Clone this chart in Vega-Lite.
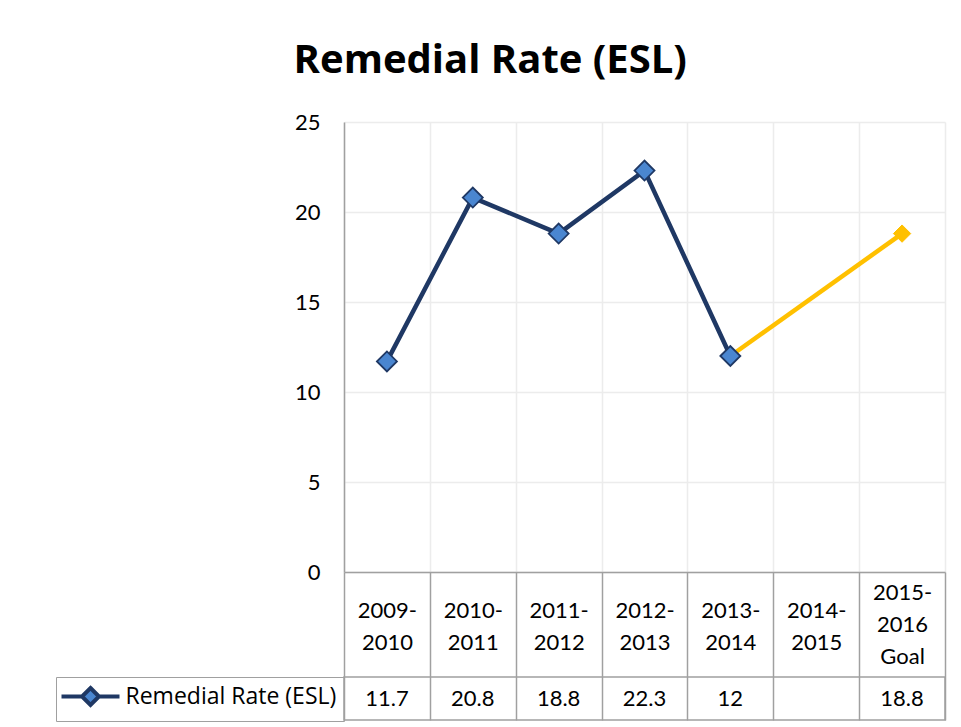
{
  "$schema": "https://vega.github.io/schema/vega-lite/v6.json",
  "padding": {"left": 54, "top": 41, "right": 18, "bottom": 7},
  "background": "#ffffff",
  "title": {
    "text": "Remedial Rate (ESL)",
    "font": "Open Sans",
    "fontSize": 40,
    "fontWeight": "bold",
    "color": "#000000",
    "anchor": "middle",
    "dx": -10,
    "offset": 30
  },
  "datasets": {
    "rates": [
      {"year": "2009-2010", "rate": 11.7, "kind": "actual", "series": "Remedial Rate (ESL)"},
      {"year": "2010-2011", "rate": 20.8, "kind": "actual", "series": "Remedial Rate (ESL)"},
      {"year": "2011-2012", "rate": 18.8, "kind": "actual", "series": "Remedial Rate (ESL)"},
      {"year": "2012-2013", "rate": 22.3, "kind": "actual", "series": "Remedial Rate (ESL)"},
      {"year": "2013-2014", "rate": 12, "kind": "actual", "series": "Remedial Rate (ESL)"},
      {"year": "2015-2016 Goal", "rate": 18.8, "kind": "goal", "series": "Remedial Rate (ESL)"}
    ],
    "goalLine": [
      {"year": "2013-2014", "rate": 12},
      {"year": "2015-2016 Goal", "rate": 18.8}
    ]
  },
  "vconcat": [
    {
      "width": 601,
      "height": 450,
      "layer": [
        {
          "data": {"name": "rates"},
          "transform": [{"filter": "datum.kind == 'actual'"}],
          "mark": {"type": "line", "color": "#1f3864", "strokeWidth": 4.5},
          "encoding": {
            "x": {
              "field": "year", "type": "nominal", "sort": null,
              "scale": {"domain": ["2009-2010", "2010-2011", "2011-2012", "2012-2013", "2013-2014", "2014-2015", "2015-2016 Goal"]},
              "axis": {
                "title": null,
                "labelAngle": 0,
                "labelExpr": "split(replace(replace(datum.label, '-', '-|'), ' ', '|'), '|')",
                "labelFont": "Lato",
                "labelFontSize": 22,
                "labelColor": "#000000",
                "labelLineHeight": 32,
                "labelBaseline": "middle",
                "labelPadding": {"condition": {"test": "indexof(datum.label, 'Goal') >= 0", "value": -127.5}, "value": -109.5},
                "domainColor": "#a0a0a0",
                "domainWidth": 1.5,
                "ticks": true,
                "tickBand": "extent",
                "tickSize": 148,
                "tickColor": "#a0a0a0",
                "tickWidth": 1.5,
                "grid": true,
                "gridColor": "#ececec",
                "gridWidth": 1.5
              }
            },
            "y": {
              "field": "rate", "type": "quantitative",
              "scale": {"domain": [0, 25], "nice": false},
              "axis": {
                "title": null,
                "values": [0, 5, 10, 15, 20, 25],
                "labelFont": "Lato",
                "labelFontSize": 22,
                "labelColor": "#000000",
                "labelPadding": 24,
                "ticks": false,
                "domainColor": "#a0a0a0",
                "domainWidth": 1.5,
                "grid": true,
                "gridColor": "#ececec",
                "gridWidth": 1.5
              }
            }
          }
        },
        {
          "data": {"name": "goalLine"},
          "mark": {"type": "line", "color": "#ffc000", "strokeWidth": 4.5},
          "encoding": {
            "x": {"field": "year", "type": "nominal", "sort": null},
            "y": {"field": "rate", "type": "quantitative"}
          }
        },
        {
          "data": {"name": "rates"},
          "transform": [{"filter": "datum.kind == 'actual'"}],
          "mark": {"type": "point", "shape": "diamond", "size": 400, "filled": true, "fill": "#4a86d0", "stroke": "#1f3864", "strokeWidth": 1.8, "opacity": 1},
          "encoding": {
            "x": {"field": "year", "type": "nominal", "sort": null},
            "y": {"field": "rate", "type": "quantitative"}
          }
        },
        {
          "data": {"name": "rates"},
          "transform": [{"filter": "datum.kind == 'goal'"}],
          "mark": {"type": "point", "shape": "diamond", "size": 300, "filled": true, "fill": "#ffc000", "stroke": "#ffc000", "strokeWidth": 1, "opacity": 1},
          "encoding": {
            "x": {"field": "year", "type": "nominal", "sort": null},
            "y": {"field": "rate", "type": "quantitative"}
          }
        }
      ]
    },
    {
      "width": 601,
      "height": 43,
      "view": {"stroke": "#a0a0a0", "strokeWidth": 1.5},
      "data": {"name": "rates"},
      "encoding": {
        "x": {
          "field": "year", "type": "nominal", "sort": null,
          "scale": {"domain": ["2009-2010", "2010-2011", "2011-2012", "2012-2013", "2013-2014", "2014-2015", "2015-2016 Goal"]},
          "axis": null
        }
      },
      "layer": [
        {
          "mark": {"type": "text", "font": "Lato", "fontSize": 22, "color": "#000000", "baseline": "middle"},
          "encoding": {
            "text": {"field": "rate", "type": "quantitative"}
          }
        },
        {
          "mark": {"type": "point", "size": 0, "filled": true, "fill": "#4a86d0", "strokeWidth": 4, "opacity": 1},
          "encoding": {
            "stroke": {
              "field": "series", "type": "nominal",
              "scale": {"range": ["#1f3864"]},
              "legend": {
                "title": null,
                "orient": "left",
                "offset": 0,
                "padding": 7.5,
                "strokeColor": "#a0a0a0",
                "symbolType": "M-2.9,0L-0.85,0M0.85,0L2.9,0M0,-0.85L0.85,0L0,0.85L-0.85,0Z",
                "symbolSize": 400,
                "symbolFillColor": "#4a86d0",
                "symbolStrokeWidth": 4,
                "symbolOpacity": 1,
                "symbolOffset": 15,
                "labelOffset": 23,
                "labelFont": "Open Sans",
                "labelFontSize": 23,
                "labelColor": "#000000",
                "labelLimit": 400
              }
            }
          }
        }
      ]
    }
  ],
  "spacing": 105,
  "bounds": "flush",
  "resolve": {"scale": {"stroke": "independent"}, "legend": {"stroke": "independent"}},
  "config": {
    "view": {"stroke": null},
    "font": "Lato"
  }
}
